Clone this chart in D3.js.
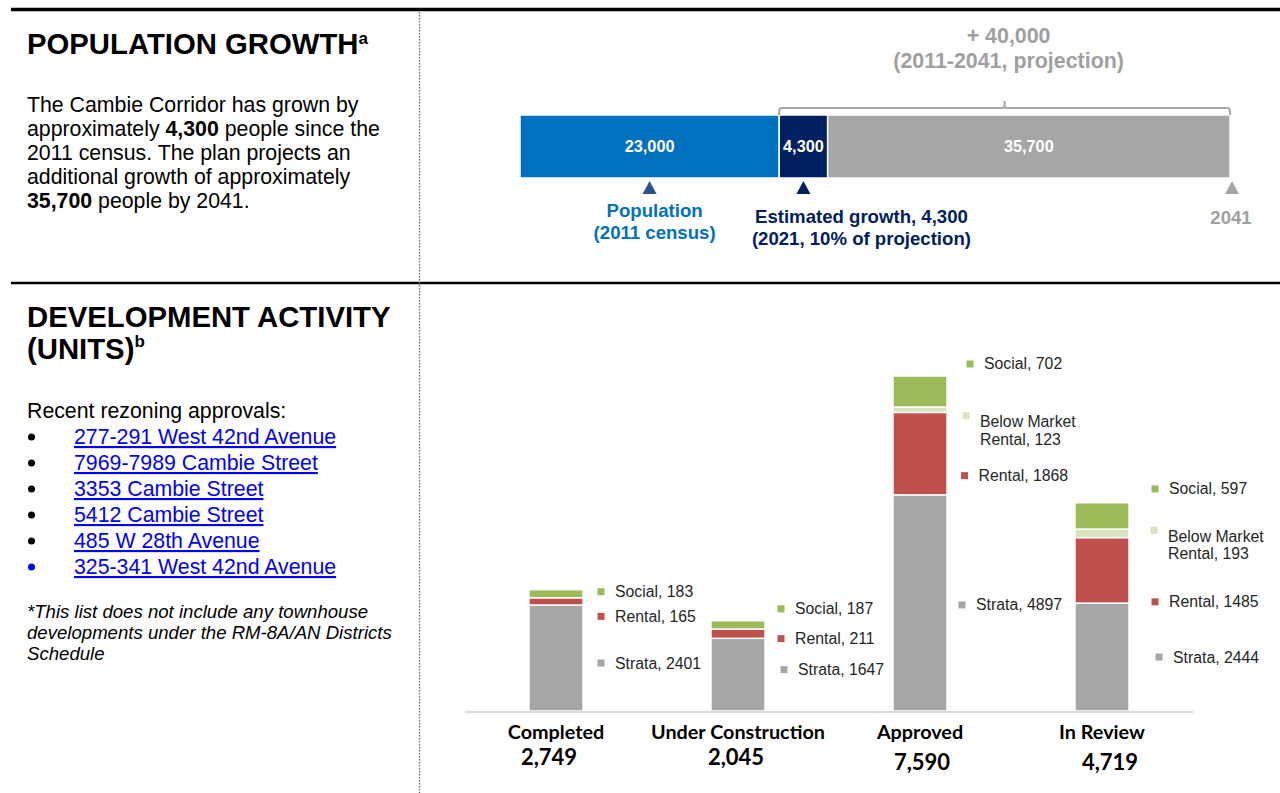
<!DOCTYPE html>
<html>
<head>
<meta charset="utf-8">
<script src="https://cdn.jsdelivr.net/npm/d3@7"></script>
<style>
  body { margin: 0; background: #fff; }
  svg { display: block; font-family: "Liberation Sans", Arial, sans-serif; }
</style>
</head>
<body>
<svg id="chart" width="1280" height="793"></svg>
<script>
// ---- population growth bar ----
const popSegments = ["census2011", "growth2021", "remaining"];
const popValues = [23000, 4300, 35700];
const popLabels = ["23,000", "4,300", "35,700"];

// ---- development activity (units) ----
const stages = ["Completed", "Under Construction", "Approved", "In Review"];
const unitTypes = ["Strata", "Rental", "Below Market Rental", "Social"];
const strataUnits = [2401, 1647, 4897, 2444];
const rentalUnits = [165, 211, 1868, 1485];
const belowMarketUnits = [0, 0, 123, 193];
const socialUnits = [183, 187, 702, 597];

const rezonings = [
  "277-291 West 42nd Avenue",
  "7969-7989 Cambie Street",
  "3353 Cambie Street",
  "5412 Cambie Street",
  "485 W 28th Avenue",
  "325-341 West 42nd Avenue"
];

const svg = d3.select("#chart");

// page frame: rules and the dotted divider
svg.append("line").attr("x1", 11).attr("x2", 1280).attr("y1", 9.5).attr("y2", 9.5)
  .attr("stroke", "#000").attr("stroke-width", 3.5);
svg.append("line").attr("x1", 11).attr("x2", 1280).attr("y1", 283).attr("y2", 283)
  .attr("stroke", "#000").attr("stroke-width", 2.5);
svg.append("line").attr("x1", 419.5).attr("x2", 419.5).attr("y1", 12).attr("y2", 793)
  .attr("stroke", "#666").attr("stroke-width", 1.3).attr("stroke-dasharray", "1.5,1.5");

// ---- left column text ----
const left = svg.append("g");
const bodySize = 21.3;

const h1 = left.append("text").attr("x", 27).attr("y", 54)
  .attr("font-size", 29.3).attr("font-weight", "bold");
h1.append("tspan").text("POPULATION GROWTH");
h1.append("tspan").attr("font-size", 17).attr("dy", -10).text("a");

const para = [
  [["The Cambie Corridor has grown by", false]],
  [["approximately ", false], ["4,300", true], [" people since the", false]],
  [["2011 census. The plan projects an", false]],
  [["additional growth of approximately", false]],
  [["35,700", true], [" people by 2041.", false]]
];
para.forEach((line, i) => {
  const t = left.append("text").attr("x", 27).attr("y", 112 + i * 24).attr("font-size", bodySize);
  line.forEach(p => t.append("tspan").attr("font-weight", p[1] ? "bold" : "normal").text(p[0]));
});

left.append("text").attr("x", 27).attr("y", 327).attr("font-size", 29.3)
  .attr("font-weight", "bold").text("DEVELOPMENT ACTIVITY");
const h2 = left.append("text").attr("x", 27).attr("y", 359)
  .attr("font-size", 29.3).attr("font-weight", "bold");
h2.append("tspan").text("(UNITS)");
h2.append("tspan").attr("font-size", 17).attr("dy", -12).text("b");

left.append("text").attr("x", 27).attr("y", 418).attr("font-size", bodySize)
  .text("Recent rezoning approvals:");

rezonings.forEach((r, i) => {
  const y = 444 + i * 26;
  left.append("circle").attr("cx", 31.5).attr("cy", y - 7).attr("r", 3.5)
    .attr("fill", i === rezonings.length - 1 ? "#0000ff" : "#000");
  left.append("text").attr("x", 74).attr("y", y).attr("font-size", bodySize)
    .attr("fill", "#0000ff").attr("text-decoration", "underline").text(r);
});

["*This list does not include any townhouse",
 "developments under the RM-8A/AN Districts",
 "Schedule"].forEach((s, i) => {
  left.append("text").attr("x", 27).attr("y", 618 + i * 21).attr("font-size", 18.6)
    .attr("font-style", "italic").text(s);
});

// ---- population bar ----
const popColors = ["#0070c0", "#002060", "#a6a6a6"];
const popEnds = d3.cumsum(popValues);
const popStarts = popEnds.map((e, i) => e - popValues[i]);
const xPop = d3.scaleLinear().domain([0, d3.sum(popValues)]).range([520, 1230]);
const barTop = 115, barH = 63;

const pop = svg.append("g");
pop.selectAll("rect").data(popSegments).enter().append("rect")
  .attr("x", (d, i) => xPop(popStarts[i]))
  .attr("y", barTop)
  .attr("width", (d, i) => xPop(popEnds[i]) - xPop(popStarts[i]))
  .attr("height", barH)
  .attr("fill", (d, i) => popColors[i])
  .attr("stroke", "#fff").attr("stroke-width", 1.5);

pop.selectAll("text.seg").data(popSegments).enter().append("text")
  .attr("class", "seg")
  .attr("x", (d, i) => (xPop(popStarts[i]) + xPop(popEnds[i])) / 2)
  .attr("y", barTop + barH / 2 + 5.5)
  .attr("text-anchor", "middle").attr("fill", "#fff")
  .attr("font-weight", "bold").attr("font-size", 16.3)
  .text((d, i) => popLabels[i]);

// bracket over the projected growth (2011-2041)
const bx0 = xPop(popStarts[1]), bx1 = xPop(popEnds[2]), bmid = (bx0 + bx1) / 2;
const by = barTop - 7;
pop.append("path")
  .attr("d", `M${bx0},${barTop} L${bx0},${by + 3} Q${bx0},${by} ${bx0 + 3},${by}
              L${bmid - 2},${by} Q${bmid},${by} ${bmid},${by - 3} L${bmid},${by - 7}
              M${bmid},${by - 3} Q${bmid},${by} ${bmid + 2},${by}
              L${bx1 - 3},${by} Q${bx1},${by} ${bx1},${by + 3} L${bx1},${barTop}`)
  .attr("fill", "none").attr("stroke", "#a6a6a6").attr("stroke-width", 2);

const projTotal = d3.sum(popValues.slice(1));
pop.append("text").attr("x", bmid + 4).attr("y", 43).attr("text-anchor", "middle")
  .attr("font-weight", "bold").attr("font-size", 21.4).attr("fill", "#a0a0a0")
  .text("+ " + d3.format(",")(Math.round(projTotal / 1000) * 1000));
pop.append("text").attr("x", bmid + 4).attr("y", 68).attr("text-anchor", "middle")
  .attr("font-weight", "bold").attr("font-size", 21.4).attr("fill", "#a0a0a0")
  .text("(2011-2041, projection)");

// markers under the bar
const markers = [
  { x: (xPop(0) + xPop(popEnds[0])) / 2, color: "#2a5292", text: "#0070c0",
    lines: ["Population", "(2011 census)"], y0: 217, dx: 5 },
  { x: (xPop(popStarts[1]) + xPop(popEnds[1])) / 2, color: "#002060", text: "#002060",
    lines: ["Estimated growth, 4,300", "(2021, 10% of projection)"], y0: 223, dx: 58 },
  { x: xPop(popEnds[2]) + 2, color: "#a6a6a6", text: "#a0a0a0",
    lines: ["2041"], y0: 224, dx: -1 }
];
markers.forEach(m => {
  pop.append("path")
    .attr("d", `M${m.x - 7},194 L${m.x + 7},194 L${m.x},181 Z`)
    .attr("fill", m.color);
  m.lines.forEach((l, i) => {
    pop.append("text").attr("x", m.x + m.dx).attr("y", m.y0 + i * 22)
      .attr("text-anchor", "middle").attr("font-weight", "bold")
      .attr("font-size", 18.6).attr("fill", m.text).text(l);
  });
});

// ---- development activity stacked bars ----
const unitColors = ["#a6a6a6", "#c0504d", "#d7e4bd", "#9bbb59"];
const rows = stages.map((s, i) => ({
  stage: s,
  "Strata": strataUnits[i],
  "Rental": rentalUnits[i],
  "Below Market Rental": belowMarketUnits[i],
  "Social": socialUnits[i]
}));
const series = d3.stack().keys(unitTypes)(rows);

const x = d3.scaleBand().domain(stages).range([465, 1193])
  .paddingInner(0.703).paddingOuter(0.3515);
const y = d3.scaleLinear().domain([0, 8000]).range([711, 357.9]);

const dev = svg.append("g");
dev.selectAll("g.layer").data(series).enter().append("g")
  .attr("class", "layer")
  .attr("fill", (d, i) => unitColors[i])
  .selectAll("rect").data(d => d.filter(p => p[1] > p[0])).enter().append("rect")
  .attr("x", d => x(d.data.stage))
  .attr("y", d => y(d[1]))
  .attr("width", x.bandwidth())
  .attr("height", d => y(d[0]) - y(d[1]))
  .attr("stroke", "#fff").attr("stroke-width", 1.5);

// baseline
dev.append("line").attr("x1", 465).attr("x2", 1193).attr("y1", y(0) + 1).attr("y2", y(0) + 1)
  .attr("stroke", "#d9d9d9").attr("stroke-width", 2);

// label nudges: [dx of marker from bar edge, dy from segment middle], by unit type
const labelNudge = {
  "Completed":          [[18, 5], [18, 15], null, [18, -2]],
  "Under Construction": [[19, -5], [16, 5], null, [16, -16]],
  "Approved":           [[15, 2], [17.5, 22], [19, 12], [23, -27.5]],
  "In Review":          [[30, 0], [26, 31.5], [25, 3], [26, -27]]
};
series.forEach((s, k) => {
  s.forEach(p => {
    if (p[1] <= p[0]) return;
    const stage = p.data.stage;
    const nudge = labelNudge[stage][k];
    const cx = x(stage) + x.bandwidth() + nudge[0];
    const cy = (y(p[0]) + y(p[1])) / 2 + nudge[1];
    const value = p.data[s.key];
    const lines = s.key === "Below Market Rental"
      ? ["Below Market", "Rental, " + value]
      : [s.key + ", " + value];
    const sqY = lines.length > 1 ? cy - 6 : cy;
    dev.append("rect").attr("x", cx - 3.5).attr("y", sqY - 3.5)
      .attr("width", 7).attr("height", 7).attr("fill", unitColors[k]);
    lines.forEach((l, j) => {
      dev.append("text").attr("x", cx + 14).attr("y", cy + 5.5 + j * 17.5)
        .attr("font-size", 15.8).attr("fill", "#262626").text(l);
    });
  });
});

// stage names and totals
const totals = rows.map(r => d3.sum(unitTypes, k => r[k]));
const totalShift = [[-7, 0], [-2, 0], [2, 5], [8, 5]];
stages.forEach((s, i) => {
  const cx = x(s) + x.bandwidth() / 2;
  dev.append("text").attr("x", cx).attr("y", 739).attr("text-anchor", "middle")
    .attr("font-family", "Lato, 'Open Sans', sans-serif").attr("font-weight", "bold")
    .attr("font-size", 19.8).attr("fill", "#000").text(s);
  dev.append("text").attr("x", cx + totalShift[i][0]).attr("y", 765 + totalShift[i][1])
    .attr("text-anchor", "middle")
    .attr("font-family", "Lato, 'Open Sans', sans-serif").attr("font-weight", "bold")
    .attr("font-size", 22).attr("fill", "#000").text(d3.format(",")(totals[i]));
});
</script>
</body>
</html>
